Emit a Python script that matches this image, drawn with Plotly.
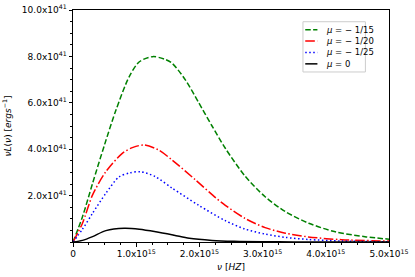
import plotly.graph_objects as go
import numpy as np

# nu in units of 1e15 Hz, L in units of 1e41 erg/s
nu_g = [0, 0.15, 0.31, 0.5, 0.68, 0.89, 1.05, 1.26, 1.45, 1.57, 1.78, 1.99, 2.2, 2.41, 2.72, 3.04, 3.36, 3.73, 4.15, 4.62, 5.0]
L_g = [0, 1.09, 2.53, 4.2, 5.69, 7.13, 7.77, 7.99, 7.88, 7.70, 6.98, 6.0, 5.0, 4.04, 2.85, 1.95, 1.31, 0.81, 0.44, 0.23, 0.12]

nu_r = [0, 0.15, 0.31, 0.52, 0.78, 0.95, 1.125, 1.35, 1.57, 1.94, 2.26, 2.41, 2.72, 3.04, 3.36, 3.72, 4.25, 5.0]
L_r = [0, 0.81, 2.03, 3.03, 3.82, 4.08, 4.18, 3.97, 3.53, 2.67, 1.9, 1.58, 1.02, 0.62, 0.38, 0.22, 0.10, 0.04]

nu_b = [0, 0.15, 0.31, 0.52, 0.73, 0.9, 1.07, 1.3, 1.57, 1.99, 2.41, 2.72, 3.04, 3.36, 3.72, 4.25, 5.0]
L_b = [0, 0.55, 1.24, 2.10, 2.81, 2.98, 3.03, 2.82, 2.32, 1.58, 0.92, 0.56, 0.34, 0.20, 0.11, 0.04, 0.01]

nu_k = [0, 0.15, 0.31, 0.52, 0.81, 1.05, 1.31, 1.6, 1.84, 2.2, 2.55, 3.0, 3.5, 4.0, 5.0]
L_k = [0, 0.07, 0.23, 0.49, 0.59, 0.55, 0.44, 0.29, 0.16, 0.07, 0.03, 0.01, 0.005, 0.0, 0.0]

labels = ["<i>μ</i> = − 1/15", "<i>μ</i> = − 1/20", "<i>μ</i> = − 1/25", "<i>μ</i> = 0"]
colors = ["#008000", "#ff0000", "#0000ff", "#000000"]
dashes = ["5.5px,2.4px", "9.6px,2.4px,1.5px,2.4px", "1.5px,2.5px", "solid"]

x_tickvals = [0, 1, 2, 3, 4, 5]
x_ticktext = ["0", "1.0x10<sup>15</sup>", "2.0x10<sup>15</sup>", "3.0x10<sup>15</sup>", "4.0x10<sup>15</sup>", "5.0x10<sup>15</sup>"]
y_tickvals = [2, 4, 6, 8, 10]
y_ticktext = ["2.0x10<sup>41</sup>", "4.0x10<sup>41</sup>", "6.0x10<sup>41</sup>", "8.0x10<sup>41</sup>", "10.0x10<sup>41</sup>"]

W, H = 415, 277

fig = go.Figure()
series = [(nu_g, L_g), (nu_r, L_r), (nu_b, L_b), (nu_k, L_k)]
for (nx, ly), lab, c, d in zip(series, labels, colors, dashes):
    fig.add_trace(go.Scatter(
        x=np.array(nx) * 1e15, y=np.array(ly) * 1e41, mode="lines", name=lab,
        line=dict(color=c, dash=d, width=1.5, shape="spline", smoothing=0.8),
        showlegend=False,
    ))

# legend box drawn in paper pixels (layout only)
def px(x):
    return x / W

def py(y):
    return 1 - y / H

fig.add_shape(type="rect", xref="paper", yref="paper",
              x0=px(302), x1=px(384), y0=py(14), y1=py(74),
              line=dict(color="#cccccc", width=1), fillcolor="rgba(255,255,255,0.8)", layer="above")
row0, rowgap = 23.5, 13.6
for i, (lab, c, d) in enumerate(zip(labels, colors, dashes)):
    yy = row0 + i * rowgap
    fig.add_shape(type="line", xref="paper", yref="paper",
                  x0=px(305), x1=px(321), y0=py(yy), y1=py(yy),
                  line=dict(color=c, dash=d, width=1.5), layer="above")
    fig.add_annotation(xref="paper", yref="paper", x=px(330), y=py(yy),
                       text=lab, showarrow=False, xanchor="left", yanchor="middle",
                       font=dict(family="DejaVu Sans", size=8.5, color="black"))

axis_common = dict(
    showline=True, linecolor="black", linewidth=1, mirror=True,
    showgrid=False, zeroline=False, ticks="outside", ticklen=3.5, tickwidth=0.8,
    tickcolor="black", tickfont=dict(family="DejaVu Sans", size=9, color="black"),
    automargin=False,
)
fig.update_xaxes(
    range=[0, 5e15], tickvals=[v * 1e15 for v in x_tickvals], ticktext=x_ticktext,
    minor=dict(ticks="outside", dtick=0.25e15, ticklen=2, tickcolor="black", tickwidth=0.6),
    title=dict(text="<i>ν</i> [<i>HZ</i>]", font=dict(family="DejaVu Sans", size=9, color="black"), standoff=5),
    **axis_common,
)
fig.update_yaxes(
    range=[0, 10e41], tickvals=[v * 1e41 for v in y_tickvals], ticktext=y_ticktext,
    minor=dict(ticks="outside", dtick=0.5e41, ticklen=2, tickcolor="black", tickwidth=0.6),
    title=dict(text="<i>νL</i>(<i>ν</i>) [<i>ergs</i><sup>−1</sup>]", font=dict(family="DejaVu Sans", size=9, color="black"), standoff=8),
    **axis_common,
)
fig.update_layout(
    width=W, height=H,
    margin=dict(l=73, r=26, t=10, b=35),
    paper_bgcolor="white", plot_bgcolor="white",
    font=dict(family="DejaVu Sans", size=9, color="black"),
    showlegend=False,
)
fig.write_html("out.html", config={"displayModeBar": False},
               post_script="document.body.style.margin='0';")
